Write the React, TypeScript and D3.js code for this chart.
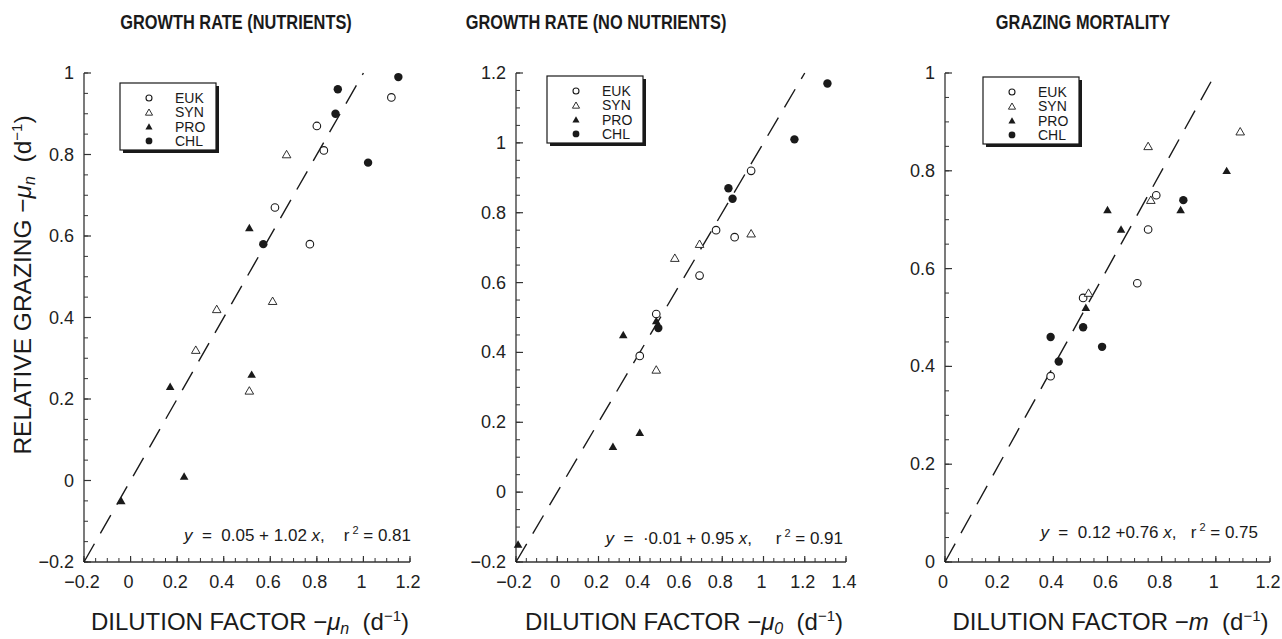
import React from 'react';
import * as d3 from 'd3';

// ---------- DATA ----------
const SERIES = ['EUK', 'SYN', 'PRO', 'CHL'];

// Panel 1: growth rate (nutrients)  [dilution factor, relative grazing]
const nutEUK: [number, number][] = [[1.12, 0.94], [0.80, 0.87], [0.83, 0.81], [0.62, 0.67], [0.77, 0.58]];
const nutSYN: [number, number][] = [[0.67, 0.80], [0.61, 0.44], [0.37, 0.42], [0.28, 0.32], [0.51, 0.22]];
const nutPRO: [number, number][] = [[0.51, 0.62], [0.52, 0.26], [0.17, 0.23], [0.23, 0.01], [-0.04, -0.05]];
const nutCHL: [number, number][] = [[1.15, 0.99], [0.89, 0.96], [0.88, 0.90], [1.02, 0.78], [0.57, 0.58]];

// Panel 2: growth rate (no nutrients)
const noNutEUK: [number, number][] = [[0.94, 0.92], [0.77, 0.75], [0.86, 0.73], [0.69, 0.62], [0.48, 0.51], [0.40, 0.39]];
const noNutSYN: [number, number][] = [[0.57, 0.67], [0.94, 0.74], [0.48, 0.35], [0.69, 0.71]];
const noNutPRO: [number, number][] = [[0.32, 0.45], [0.40, 0.17], [0.27, 0.13], [-0.19, -0.15], [0.48, 0.49]];
const noNutCHL: [number, number][] = [[1.31, 1.17], [1.15, 1.01], [0.83, 0.87], [0.85, 0.84], [0.49, 0.47]];

// Panel 3: grazing mortality
const grzEUK: [number, number][] = [[0.39, 0.38], [0.51, 0.54], [0.71, 0.57], [0.75, 0.68], [0.78, 0.75]];
const grzSYN: [number, number][] = [[0.75, 0.85], [1.09, 0.88], [0.76, 0.74], [0.53, 0.55]];
const grzPRO: [number, number][] = [[0.60, 0.72], [0.65, 0.68], [0.87, 0.72], [1.04, 0.80], [0.52, 0.52]];
const grzCHL: [number, number][] = [[0.39, 0.46], [0.42, 0.41], [0.51, 0.48], [0.58, 0.44], [0.88, 0.74]];

// Tick values
const nutXTicks = [-0.2, 0, 0.2, 0.4, 0.6, 0.8, 1, 1.2];
const nutYTicks = [-0.2, 0, 0.2, 0.4, 0.6, 0.8, 1];
const noNutXTicks = [-0.2, 0, 0.2, 0.4, 0.6, 0.8, 1, 1.2, 1.4];
const noNutYTicks = [-0.2, 0, 0.2, 0.4, 0.6, 0.8, 1, 1.2];
const grzXTicks = [0, 0.2, 0.4, 0.6, 0.8, 1, 1.2];
const grzYTicks = [0, 0.2, 0.4, 0.6, 0.8, 1];

const TITLES = ['GROWTH RATE (NUTRIENTS)', 'GROWTH RATE (NO NUTRIENTS)', 'GRAZING MORTALITY'];
const EQ_INTERCEPT = ['0.05 + ', '·0.01 + ', '0.12 +'];
const EQ_SLOPE = ['1.02', '0.95', '0.76'];
const EQ_R2 = ['0.81', '0.91', '0.75'];
const XLABEL_SYM = ['μ', 'μ', 'm'];
const XLABEL_SUB = ['n', '0', ''];

// ---------- LAYOUT ----------
const FONT = '"Liberation Sans", Arial, Helvetica, sans-serif';
const INK = '#1a1a1a';

interface Panel {
  series: [number, number][][];
  xDomain: [number, number];
  yDomain: [number, number];
  xRange: [number, number];
  yRange: [number, number];
  xTicks: number[];
  yTicks: number[];
  legend: { x: number; y: number };
  titleX: number;
  eqEnd: number;
  eqY: number;
  eqGap: string;
}

const panels: Panel[] = [
  {
    series: [nutEUK, nutSYN, nutPRO, nutCHL],
    xDomain: [-0.2, 1.2], yDomain: [-0.2, 1],
    xRange: [84, 410], yRange: [562, 73],
    xTicks: nutXTicks, yTicks: nutYTicks,
    legend: { x: 120, y: 83 }, titleX: 236, eqEnd: 411, eqY: 541, eqGap: '    ',
  },
  {
    series: [noNutEUK, noNutSYN, noNutPRO, noNutCHL],
    xDomain: [-0.2, 1.4], yDomain: [-0.2, 1.2],
    xRange: [516, 846], yRange: [562, 73],
    xTicks: noNutXTicks, yTicks: noNutYTicks,
    legend: { x: 547, y: 76 }, titleX: 596, eqEnd: 843, eqY: 544, eqGap: '     ',
  },
  {
    series: [grzEUK, grzSYN, grzPRO, grzCHL],
    xDomain: [0, 1.2], yDomain: [0, 1],
    xRange: [945, 1270], yRange: [562, 73],
    xTicks: grzXTicks, yTicks: grzYTicks,
    legend: { x: 983, y: 77 }, titleX: 1083, eqEnd: 1258, eqY: 538, eqGap: '   ',
  },
];

const fmt = (v: number) => {
  const a = +Math.abs(v).toFixed(1);
  return (v < -1e-9 ? '−' : '') + String(a);
};

const triPath = d3.symbol().type(d3.symbolTriangle).size(32)() as string;
const triPathLegend = d3.symbol().type(d3.symbolTriangle).size(22)() as string;

function Marker({ kind, x, y, legend }: { kind: number; x: number; y: number; legend?: boolean }) {
  const r = legend ? 3 : 3.8;
  const tp = legend ? triPathLegend : triPath;
  if (kind === 0) return <circle cx={x} cy={y} r={r} fill="white" stroke={INK} strokeWidth={1.1} />;
  if (kind === 1) return <path d={tp} transform={`translate(${x},${y + 0.8})`} fill="white" stroke={INK} strokeWidth={0.9} />;
  if (kind === 2) return <path d={tp} transform={`translate(${x},${y + 0.8})`} fill={INK} />;
  return <circle cx={x} cy={y} r={r + 0.4} fill={INK} />;
}

function PanelView({ p, i }: { p: Panel; i: number }) {
  const xs = d3.scaleLinear().domain(p.xDomain).range(p.xRange);
  const ys = d3.scaleLinear().domain(p.yDomain).range(p.yRange);
  const x0 = p.xRange[0];
  const y0 = p.yRange[0];
  const xMinor = d3.range(Math.round(p.xDomain[0] * 20), Math.round(p.xDomain[1] * 20) + 1).map((k) => k / 20);
  const yMinor = d3.range(Math.round(p.yDomain[0] * 20), Math.round(p.yDomain[1] * 20) + 1).map((k) => k / 20);
  const lo = Math.max(p.xDomain[0], p.yDomain[0]);
  const hi = Math.min(p.xDomain[1], p.yDomain[1]);
  const line = d3.line<number>().x((d) => xs(d)).y((d) => ys(d));
  const xMid = (p.xRange[0] + p.xRange[1]) / 2;
  const lg = p.legend;
  return (
    <g>
      <text
        transform={`translate(${p.titleX},29) scale(0.84,1)`}
        textAnchor="middle"
        fontFamily={FONT}
        fontWeight="bold"
        fontSize={19.5}
        fill={INK}
      >
        {TITLES[i]}
      </text>
      {/* axes */}
      <line x1={x0} x2={p.xRange[1]} y1={y0} y2={y0} stroke="#333" strokeWidth={1.3} />
      <line x1={x0} x2={x0} y1={y0} y2={p.yRange[1]} stroke="#333" strokeWidth={1.3} />
      {xMinor.map((v) => (
        <line key={'xm' + v} x1={xs(v)} x2={xs(v)} y1={y0} y2={y0 - 4} stroke="#333" strokeWidth={1} />
      ))}
      {yMinor.map((v) => (
        <line key={'ym' + v} x1={x0} x2={x0 + 4} y1={ys(v)} y2={ys(v)} stroke="#333" strokeWidth={1} />
      ))}
      {p.xTicks.map((v) => (
        <g key={'xt' + v}>
          <line x1={xs(v)} x2={xs(v)} y1={y0} y2={y0 - 6} stroke="#333" strokeWidth={1.2} />
          <text x={xs(v) - 2} y={y0 + 26} textAnchor="middle" fontFamily={FONT} fontSize={18} fill="#222">
            {fmt(v)}
          </text>
        </g>
      ))}
      {p.yTicks.map((v) => (
        <g key={'yt' + v}>
          <line x1={x0} x2={x0 + 7} y1={ys(v)} y2={ys(v)} stroke="#333" strokeWidth={1.2} />
          <text x={x0 - 10} y={ys(v) + 6} textAnchor="end" fontFamily={FONT} fontSize={18} fill="#222">
            {fmt(v)}
          </text>
        </g>
      ))}
      {/* 1:1 dashed line */}
      <path d={line([lo, hi]) as string} fill="none" stroke={INK} strokeWidth={1.4} strokeDasharray="21 12" />
      {/* points */}
      {p.series.map((s, k) =>
        s.map((d, j) => <Marker key={`p${k}-${j}`} kind={k} x={xs(d[0])} y={ys(d[1])} />)
      )}
      {/* legend */}
      <rect x={lg.x + 3} y={lg.y + 3} width={96} height={67} fill={INK} />
      <rect x={lg.x} y={lg.y} width={96} height={67} fill="white" stroke={INK} strokeWidth={1.2} />
      {SERIES.map((name, k) => (
        <g key={name}>
          <Marker kind={k} x={lg.x + 29} y={lg.y + 15 + k * 14.3} legend />
          <text x={lg.x + 55} y={lg.y + 20 + k * 14.3} fontFamily={FONT} fontSize={14} fill={INK}>
            {name}
          </text>
        </g>
      ))}
      {/* equation */}
      <text x={p.eqEnd} y={p.eqY} textAnchor="end" fontFamily={FONT} fontSize={17} fill={INK} xmlSpace="preserve">
        <tspan fontStyle="italic">y</tspan>
        <tspan>{`  =  ${EQ_INTERCEPT[i]}${EQ_SLOPE[i]} `}</tspan>
        <tspan fontStyle="italic">x</tspan>
        <tspan>{`,${p.eqGap}r`}</tspan>
        <tspan fontSize={11} dy={-7}>{' 2'}</tspan>
        <tspan dy={7}>{` = ${EQ_R2[i]}`}</tspan>
      </text>
      {/* x label */}
      <text x={xMid + 3} y={630} textAnchor="middle" fontFamily={FONT} fontSize={24} fill={INK} xmlSpace="preserve">
        <tspan>{'DILUTION FACTOR −'}</tspan>
        <tspan fontStyle="italic">{XLABEL_SYM[i]}</tspan>
        {XLABEL_SUB[i] ? (
          <tspan fontStyle="italic" fontSize={16} dy={4}>{XLABEL_SUB[i]}</tspan>
        ) : null}
        <tspan dy={XLABEL_SUB[i] ? -4 : 0}>{'  (d'}</tspan>
        <tspan fontSize={15} dy={-9}>{'−1'}</tspan>
        <tspan dy={9}>{')'}</tspan>
      </text>
    </g>
  );
}

export default function App() {
  return (
    <svg width={1282} height={639} style={{ display: 'block', position: 'absolute', left: 0, top: 0 }}>
      <rect x={0} y={0} width={1282} height={639} fill="white" />
      {panels.map((p, i) => (
        <PanelView key={i} p={p} i={i} />
      ))}
      <text
        transform="translate(31,285) rotate(-90)"
        textAnchor="middle"
        fontFamily={FONT}
        fontSize={24.5}
        fill={INK}
        xmlSpace="preserve"
      >
        <tspan>{'RELATIVE GRAZING −'}</tspan>
        <tspan fontStyle="italic">μ</tspan>
        <tspan fontStyle="italic" fontSize={16} dy={4}>n</tspan>
        <tspan dy={-4}>{'  (d'}</tspan>
        <tspan fontSize={15} dy={-9}>{'−1'}</tspan>
        <tspan dy={9}>{')'}</tspan>
      </text>
    </svg>
  );
}
